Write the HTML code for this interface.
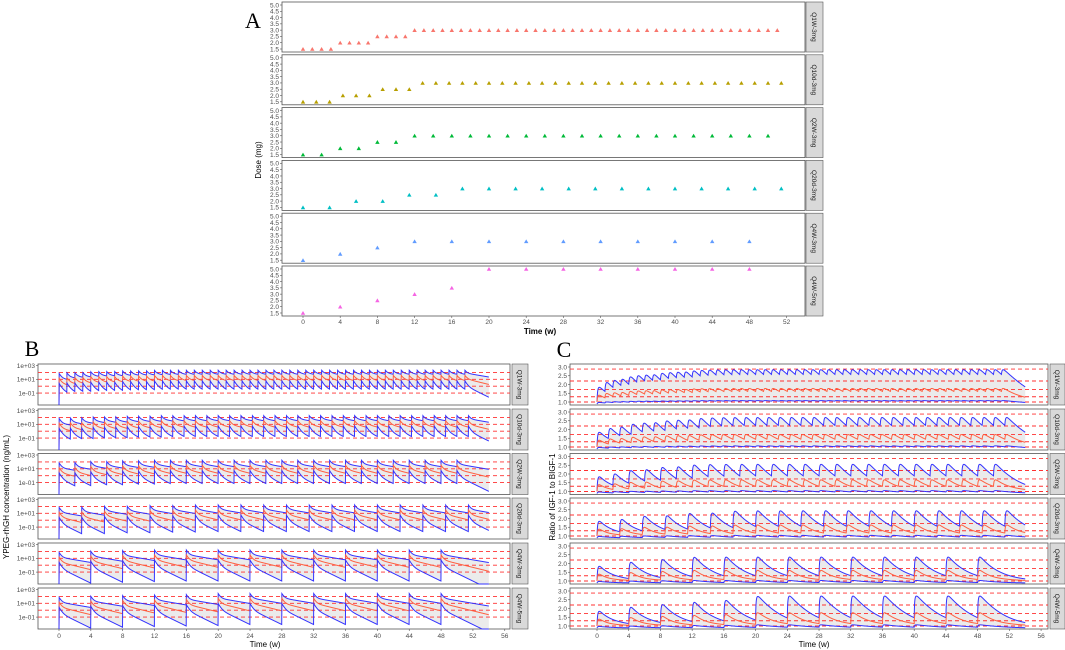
<!DOCTYPE html>
<html><head><meta charset="utf-8"><style>
html,body{margin:0;padding:0;background:#fff;}
svg{display:block;font-family:"Liberation Sans",sans-serif;}
</style></head><body>
<svg id="fig" width="1065" height="650" viewBox="0 0 1065 650" xmlns="http://www.w3.org/2000/svg"></svg>
<script>
const regimens = ["Q1W-3mg","Q10d-3mg","Q2W-3mg","Q20d-3mg","Q4W-3mg","Q4W-5mg"];
const doseColors = ["#F8766D","#B79F00","#00BA38","#00BFC4","#619CFF","#F564E3"];
const timesQ1W = [0,1,2,3,4,5,6,7,8,9,10,11,12,13,14,15,16,17,18,19,20,21,22,23,24,25,26,27,28,29,30,31,32,33,34,35,36,37,38,39,40,41,42,43,44,45,46,47,48,49,50,51];
const dosesQ1W = [1.5,1.5,1.5,1.5,2,2,2,2,2.5,2.5,2.5,2.5,3,3,3,3,3,3,3,3,3,3,3,3,3,3,3,3,3,3,3,3,3,3,3,3,3,3,3,3,3,3,3,3,3,3,3,3,3,3,3,3];
const timesQ10d = [0,1.43,2.86,4.29,5.71,7.14,8.57,10,11.43,12.86,14.29,15.71,17.14,18.57,20,21.43,22.86,24.29,25.71,27.14,28.57,30,31.43,32.86,34.29,35.71,37.14,38.57,40,41.43,42.86,44.29,45.71,47.14,48.57,50,51.43];
const dosesQ10d = [1.5,1.5,1.5,2,2,2,2.5,2.5,2.5,3,3,3,3,3,3,3,3,3,3,3,3,3,3,3,3,3,3,3,3,3,3,3,3,3,3,3,3];
const timesQ2W = [0,2,4,6,8,10,12,14,16,18,20,22,24,26,28,30,32,34,36,38,40,42,44,46,48,50];
const dosesQ2W = [1.5,1.5,2,2,2.5,2.5,3,3,3,3,3,3,3,3,3,3,3,3,3,3,3,3,3,3,3,3];
const timesQ20d = [0,2.86,5.71,8.57,11.43,14.29,17.14,20,22.86,25.71,28.57,31.43,34.29,37.14,40,42.86,45.71,48.57,51.43];
const dosesQ20d = [1.5,1.5,2,2,2.5,2.5,3,3,3,3,3,3,3,3,3,3,3,3,3];
const timesQ4W = [0,4,8,12,16,20,24,28,32,36,40,44,48];
const dosesQ4W = [1.5,2,2.5,3,3,3,3,3,3,3,3,3,3];
const timesQ4W5 = [0,4,8,12,16,20,24,28,32,36,40,44,48];
const dosesQ4W5 = [1.5,2,2.5,3,3.5,5,5,5,5,5,5,5,5];
const doseTicks = [1.5,2.0,2.5,3.0,3.5,4.0,4.5,5.0];
const weekTicksA = [0,4,8,12,16,20,24,28,32,36,40,44,48,52];
const weekTicksBC = [0,4,8,12,16,20,24,28,32,36,40,44,48,52,56];
const concTicks = [3,1,-1];
const concTickLabels = ["1e+03","1e+01","1e-01"];
const concRefLines = [100,10,1,0.1];
const ratioTicks = [1.0,1.5,2.0,2.5,3.0];
const ratioRefLines = [2.88,2.2,1.72,1.3,1.0];

const allTimes=[timesQ1W,timesQ10d,timesQ2W,timesQ20d,timesQ4W,timesQ4W5];
const allDoses=[dosesQ1W,dosesQ10d,dosesQ2W,dosesQ20d,dosesQ4W,dosesQ4W5];

const svg=document.getElementById('fig');
const NS="http://www.w3.org/2000/svg";
function mk(tag,attrs,parent){const e=document.createElementNS(NS,tag);for(const k in attrs)e.setAttribute(k,attrs[k]);(parent||svg).appendChild(e);return e;}
function txt(x,y,s,size,anchor,parent,extra){const t=mk('text',Object.assign({x:x,y:y,'font-size':size,'text-anchor':anchor||'middle',fill:'#4D4D4D'},extra||{}),parent);t.textContent=s;return t;}

function strip(x,top,h,w,label,g){
  const r=mk('rect',{x:x,y:top,width:w,height:h,fill:'#D9D9D9',stroke:'#555','stroke-width':0.6},g);
  
  
  const t=txt(0,0,label,6.5,'middle',g,{transform:`translate(${x+w/2-2.3},${top+h/2}) rotate(90)`,fill:'#1A1A1A'});
  
  
}

/* ---------- Panel A ---------- */
const gA=mk('g',{});


const aL=282,aR=805,aTops=[2,54.8,107.6,160.4,213.2,266],aH=50;
const xA=t=>303+9.3*t;
const yA=(top,v)=>top+3+(5-v)*12.57;
const lblA=txt(253,28,'A',22,'middle',gA,{'font-family':'Liberation Serif,serif',fill:'#000'});


regimens.forEach((reg,i)=>{
  const top=aTops[i];
  const fr=mk('rect',{x:aL,y:top,width:aR-aL,height:aH,fill:'#fff',stroke:'#555','stroke-width':0.8},gA);
  
  
  doseTicks.forEach(v=>{
    mk('line',{x1:aL-2,x2:aL,y1:yA(top,v),y2:yA(top,v),stroke:'#555','stroke-width':0.6},gA);
    const t=txt(aL-3,yA(top,v)+2.3,v.toFixed(1),6.5,'end',gA);
    
    
  });
  allTimes[i].forEach((tm,j)=>{
    const cx=xA(tm),cy=yA(top,allDoses[i][j]);
    const p=mk('path',{d:`M${cx-2.2},${cy+1.8}L${cx+2.2},${cy+1.8}L${cx},${cy-2}Z`,fill:doseColors[i]},gA);
    
    
  });
  strip(aR+1,top,aH,17,reg,gA);
});
weekTicksA.forEach(w=>{
  mk('line',{x1:xA(w),x2:xA(w),y1:aTops[5]+aH,y2:aTops[5]+aH+2,stroke:'#555','stroke-width':0.6},gA);
  const t=txt(xA(w),324,String(w),6.5,'middle',gA);
  
  
});
const axA=txt(540,334,'Time (w)',8,'middle',gA,{fill:'#000','font-weight':'bold'});


const ayA=txt(0,0,'Dose (mg)',8,'middle',gA,{fill:'#000',transform:'translate(261,160) rotate(-90)'});



/* ---------- model helpers ---------- */
const tEnd=54, dtS=0.02;
const samples=[];for(let t=0;t<=tEnd+1e-9;t+=dtS)samples.push(+t.toFixed(3));
function conc(i,t,p){let s=0;const T=allTimes[i],D=allDoses[i];for(let j=0;j<T.length;j++){const d=t-T[j];if(d<0)break;s+=D[j]*(p[0]*Math.exp(-p[1]*d)+p[2]*Math.exp(-p[3]*d));}return s;}
function drive(i,t,w){let s=0;const T=allTimes[i],D=allDoses[i];for(let j=0;j<T.length;j++){const d=t-T[j];if(d<0)break;s+=D[j]*(w[0]*(Math.exp(-1.6*d)-Math.exp(-9*d))+w[1]*(Math.exp(-0.5*d)-Math.exp(-9*d)));}return s;}
const pkUpper=[40,5,10,0.45],pkMed=[8,5,2,0.65],pkLow=[1.5,5,0.3,1.3];
const pdUpper=[1.0,2.75,0.22,0.4],pdMed=[1.0,1.2,0.5,0.25],pdLow=[0.88,0.3,0.22,0.4];
const EC50=1.5;

/* ---------- Panel B ---------- */
const gB=mk('g',{});


const bL=38,bR=510,tops=[364,409,453.5,498,543,588],pH=41;
const xB=t=>59+7.96*t;
const yB=(top,v)=>{const lv=Math.log10(Math.max(v,1e-4));return Math.min(top+pH,top+1.5+(3-lv)*6.9);};
const lblB=txt(32,356,'B',22,'middle',gB,{'font-family':'Liberation Serif,serif',fill:'#000'});


regimens.forEach((reg,i)=>{
  const top=tops[i];
  const fr=mk('rect',{x:bL,y:top,width:bR-bL,height:pH,fill:'#fff',stroke:'#555','stroke-width':0.8},gB);
  
  
  const up=samples.map(t=>[xB(t),t===0?top+pH:yB(top,conc(i,t,pkUpper))]);
  const md=samples.map(t=>[xB(t),t===0?top+pH:yB(top,conc(i,t,pkMed))]);
  const lo=samples.map(t=>[xB(t),t===0?top+pH:yB(top,conc(i,t,pkLow))]);
  const rib=mk('path',{d:'M'+up.map(p=>p.join(',')).join('L')+'L'+lo.slice().reverse().map(p=>p.join(',')).join('L')+'Z',fill:'#EBEBEB'},gB);
  
  
  concRefLines.forEach(v=>{const l=mk('line',{x1:bL,x2:bR,y1:yB(top,v),y2:yB(top,v),stroke:'#FF3030','stroke-width':0.9,'stroke-dasharray':'4,3'},gB);
    
    });
  [[up,'#3333FF','conc-upper-line'],[md,'#FF6040','conc-median-line'],[lo,'#3333FF','conc-lower-line']].forEach(([pts,c,n])=>{
    const l=mk('path',{d:'M'+pts.map(p=>p.join(',')).join('L'),fill:'none',stroke:c,'stroke-width':1},gB);
    
    
  });
  concTicks.forEach((lv,k)=>{const y=yB(top,Math.pow(10,lv));
    mk('line',{x1:bL-2,x2:bL,y1:y,y2:y,stroke:'#555','stroke-width':0.6},gB);
    const t=txt(bL-3,y+2.3,concTickLabels[k],6.5,'end',gB);
    
    });
  strip(bR+2,top,pH,16,reg,gB);
});
weekTicksBC.forEach(w=>{
  mk('line',{x1:xB(w),x2:xB(w),y1:tops[5]+pH,y2:tops[5]+pH+2,stroke:'#555','stroke-width':0.6},gB);
  const t=txt(xB(w),638,String(w),6.5,'middle',gB);
  
  
});
const axB=txt(265,647,'Time (w)',8,'middle',gB,{fill:'#000'});


const ayB=txt(0,0,'YPEG-rhGH concentration (ng/mL)',8,'middle',gB,{fill:'#000',transform:'translate(9,497) rotate(-90)'});



/* ---------- Panel C ---------- */
const gC=mk('g',{});


const cL=570,cR=1048;
const xC=t=>597+7.93*t;
const yC=(top,v)=>Math.min(top+pH,Math.max(top,top+3+(3-v)*17.5));
const lblC=txt(564,357,'C',22,'middle',gC,{'font-family':'Liberation Serif,serif',fill:'#000'});


function pd(i,t,p){const s=drive(i,t,[p[2],p[3]]);return p[0]+p[1]*s/(s+EC50);}
regimens.forEach((reg,i)=>{
  const top=tops[i];
  const fr=mk('rect',{x:cL,y:top,width:cR-cL,height:pH,fill:'#fff',stroke:'#555','stroke-width':0.8},gC);
  
  
  const up=samples.map(t=>[xC(t),yC(top,pd(i,t,pdUpper))]);
  const md=samples.map(t=>[xC(t),yC(top,pd(i,t,pdMed))]);
  const lo=samples.map(t=>[xC(t),yC(top,pd(i,t,pdLow))]);
  const rib=mk('path',{d:'M'+up.map(p=>p.join(',')).join('L')+'L'+lo.slice().reverse().map(p=>p.join(',')).join('L')+'Z',fill:'#EBEBEB'},gC);
  
  
  ratioRefLines.forEach(v=>{const l=mk('line',{x1:cL,x2:cR,y1:yC(top,v),y2:yC(top,v),stroke:'#FF3030','stroke-width':0.9,'stroke-dasharray':'4,3'},gC);
    
    });
  [[up,'#3333FF','ratio-upper-line'],[md,'#FF6040','ratio-median-line'],[lo,'#3333FF','ratio-lower-line']].forEach(([pts,c,n])=>{
    const l=mk('path',{d:'M'+pts.map(p=>p.join(',')).join('L'),fill:'none',stroke:c,'stroke-width':1},gC);
    
    
  });
  ratioTicks.forEach(v=>{const y=yC(top,v);
    mk('line',{x1:cL-2,x2:cL,y1:y,y2:y,stroke:'#555','stroke-width':0.6},gC);
    const t=txt(cL-3,y+2.3,v.toFixed(1),6.5,'end',gC);
    
    });
  strip(cR+2,top,pH,15,reg,gC);
});
weekTicksBC.forEach(w=>{
  mk('line',{x1:xC(w),x2:xC(w),y1:tops[5]+pH,y2:tops[5]+pH+2,stroke:'#555','stroke-width':0.6},gC);
  const t=txt(xC(w),638,String(w),6.5,'middle',gC);
  
  
});
const axC=txt(814,647,'Time (w)',8,'middle',gC,{fill:'#000'});


const ayC=txt(0,0,'Ratio of IGF-1 to BIGF-1',8,'middle',gC,{fill:'#000',transform:'translate(555,497) rotate(-90)'});


</script>
</body></html>
